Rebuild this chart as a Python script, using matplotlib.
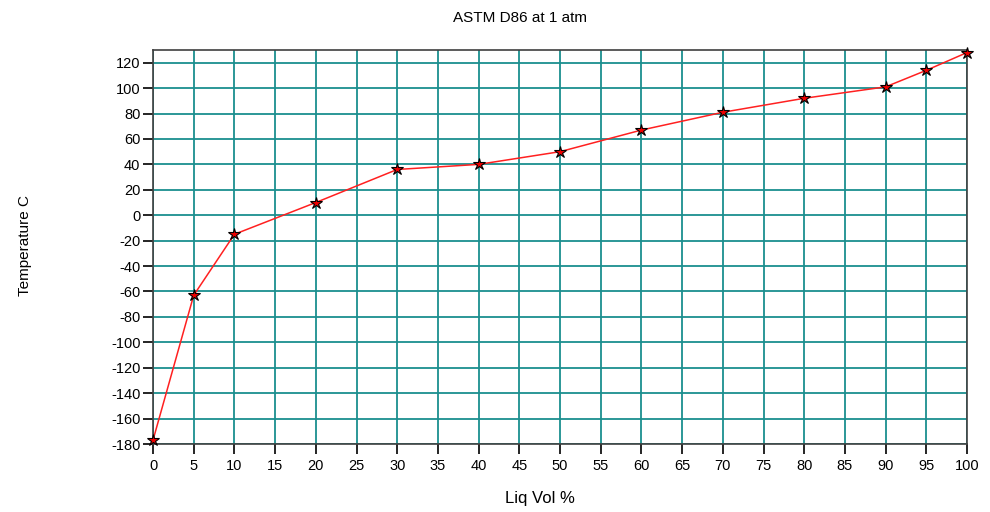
import matplotlib
matplotlib.use("Agg")
import matplotlib.pyplot as plt

liq_vol = [0, 5, 10, 20, 30, 40, 50, 60, 70, 80, 90, 95, 100]
temperature = [-177, -63, -15, 10, 36, 40, 50, 67, 81, 92, 101, 114, 128]
x_ticks = list(range(0, 101, 5))
y_ticks = list(range(-180, 121, 20))

plt.rcParams['font.family'] = ['Liberation Sans', 'DejaVu Sans']
plt.rcParams['axes.unicode_minus'] = False
fig = plt.figure(figsize=(9.9, 5.12), dpi=100)
ax = fig.add_axes([153/990, 1-444/512, (967-153)/990, (444-50)/512])

ax.plot(liq_vol, temperature, color='#ff2020', lw=1.1, marker='*', ms=9,
        markerfacecolor='#ee0000', markeredgecolor='black', markeredgewidth=0.8,
        zorder=3, clip_on=False)

ax.set_xlim(0, 100)
ax.set_ylim(-180, 130)
ax.set_xticks(x_ticks)
ax.set_yticks(y_ticks)
ax.grid(True, color='#1a8f8f', lw=1.3)
ax.set_axisbelow(True)
for s in ax.spines.values():
    s.set_color('#404040')
    s.set_linewidth(1.2)
ax.tick_params(direction='out', length=7, width=1.2, labelsize=10.5, colors='black',
               top=False, right=False)
ax.tick_params(axis='y', pad=2)

fig.text(520/990, 1-18/512, 'ASTM D86 at 1 atm', ha='center', va='center', fontsize=11)
fig.text(540/990, 1-498/512, 'Liq Vol %', ha='center', va='center', fontsize=12)
fig.text(25/990, 1-245/512, 'Temperature C', ha='center', va='center', rotation=90, fontsize=11)

fig.savefig('out.png', dpi=100)
